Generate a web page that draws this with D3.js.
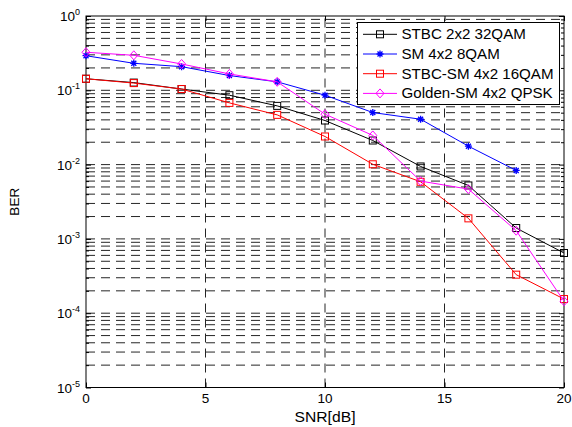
<!DOCTYPE html>
<html>
<head>
<meta charset="utf-8">
<script src="https://cdn.jsdelivr.net/npm/d3@7"></script>
<style>
	body { margin: 0; background: #fff; }
	text { font-family: "Liberation Sans", Arial, sans-serif; fill: #000; }
</style>
</head>
<body>
<svg id="chart" width="572" height="427"></svg>
<script>
const snr = [0, 2, 4, 6, 8, 10, 12, 14, 16, 18, 20]

const stbc32 = [0.143, 0.127, 0.104, 0.0859, 0.0617, 0.0392, 0.0211, 0.00944, 0.00524, 0.0014, 0.000646]
const sm8 = [0.292, 0.231, 0.208, 0.158, 0.130, 0.0859, 0.0502, 0.0408, 0.0177, 0.00834]
const stbcSm16 = [0.143, 0.125, 0.104, 0.0677, 0.0467, 0.0239, 0.0101, 0.00587, 0.00189, 0.00033, 0.000155]
const goldenQpsk = [0.325, 0.296, 0.226, 0.166, 0.130, 0.0477, 0.0247, 0.0060, 0.00468, 0.00129, 0.000145]

const xTicks = [0, 5, 10, 15, 20]
const yDecades = [-5, -4, -3, -2, -1, 0]

const series = [
	{ name: 'STBC 2x2 32QAM', values: stbc32, color: '#000000', marker: 'square' },
	{ name: 'SM 4x2 8QAM', values: sm8, color: '#0000ff', marker: 'star' },
	{ name: 'STBC-SM 4x2 16QAM', values: stbcSm16, color: '#ff0000', marker: 'square' },
	{ name: 'Golden-SM 4x2 QPSK', values: goldenQpsk, color: '#ff00ff', marker: 'diamond' }
]

const box = { left: 86, right: 564, top: 16, bottom: 387.5 }

const svg = d3.select('#chart')

const x = d3.scaleLinear().domain([0, 20]).range([box.left, box.right])
const y = d3.scaleLog().domain([1e-5, 1]).range([box.bottom, box.top])

// minor values 2..9 of every decade, plus the decades
const yAll = []
yDecades.forEach((d) => {
	for (let k = 1; k <= 9; k++) {
		const v = k * Math.pow(10, d)
		if (v >= 1e-5 && v <= 1) yAll.push(v)
	}
})
const yMajor = yDecades.map((d) => Math.pow(10, d))

// grid
const grid = svg.append('g')
	.attr('stroke', '#000')
	.attr('stroke-width', 1)
	.attr('stroke-dasharray', '9,6')
	.attr('opacity', 0.85)

grid.selectAll('.hgrid')
	.data(yAll.filter((v) => v > 1e-5 && v < 1))
	.enter().append('line')
		.attr('x1', box.left)
		.attr('x2', box.right)
		.attr('y1', (v) => y(v))
		.attr('y2', (v) => y(v))

grid.selectAll('.vgrid')
	.data(xTicks.filter((t) => t > 0 && t < 20))
	.enter().append('line')
		.attr('x1', (t) => x(t))
		.attr('x2', (t) => x(t))
		.attr('y1', box.bottom)
		.attr('y2', box.top)

// axes with inward ticks
const tickStyle = (g) => {
	g.select('.domain').remove()
	g.selectAll('line').attr('stroke', '#000')
	g.selectAll('text').remove()
}

svg.append('g')
	.attr('transform', `translate(0,${box.bottom})`)
	.call(d3.axisBottom(x).tickValues(xTicks).tickSize(-5))
	.call(tickStyle)
svg.append('g')
	.attr('transform', `translate(0,${box.top})`)
	.call(d3.axisTop(x).tickValues(xTicks).tickSize(-5))
	.call(tickStyle)

const yMinor = yAll.filter((v) => yMajor.indexOf(v) < 0)
svg.append('g')
	.attr('transform', `translate(${box.left},0)`)
	.call(d3.axisLeft(y).tickValues(yMinor).tickSize(-3))
	.call(tickStyle)
svg.append('g')
	.attr('transform', `translate(${box.left},0)`)
	.call(d3.axisLeft(y).tickValues(yMajor).tickSize(-5))
	.call(tickStyle)
svg.append('g')
	.attr('transform', `translate(${box.right},0)`)
	.call(d3.axisRight(y).tickValues(yMinor).tickSize(-3))
	.call(tickStyle)
svg.append('g')
	.attr('transform', `translate(${box.right},0)`)
	.call(d3.axisRight(y).tickValues(yMajor).tickSize(-5))
	.call(tickStyle)

svg.append('rect')
	.attr('x', box.left)
	.attr('y', box.top)
	.attr('width', box.right - box.left)
	.attr('height', box.bottom - box.top)
	.attr('fill', 'none')
	.attr('stroke', '#000')
	.attr('stroke-width', 1)

// tick labels
svg.selectAll('.xlabel')
	.data(xTicks)
	.enter().append('text')
		.attr('x', (t) => x(t))
		.attr('y', box.bottom + 15)
		.attr('text-anchor', 'middle')
		.attr('font-size', 13.5)
		.text((t) => t)

const ylab = svg.selectAll('.ylabel')
	.data(yDecades)
	.enter().append('text')
		.attr('x', box.left - 6)
		.attr('y', (d) => y(Math.pow(10, d)) + 5)
		.attr('text-anchor', 'end')
		.attr('font-size', 13.5)
ylab.append('tspan').text('10')
ylab.append('tspan')
	.attr('dy', -6)
	.attr('font-size', 9)
	.text((d) => d)

svg.append('text')
	.attr('transform', `translate(${(box.left + box.right) / 2},421.5) scale(1.12,1)`)
	.attr('text-anchor', 'middle')
	.attr('font-size', 14)
	.text('SNR[dB]')

svg.append('text')
	.attr('transform', `translate(18.5,${(box.top + box.bottom) / 2}) rotate(-90)`)
	.attr('text-anchor', 'middle')
	.attr('font-size', 13.5)
	.text('BER')

// markers
const drawMarker = (g, type, color) => {
	if (type === 'square') {
		g.append('rect')
			.attr('x', -3.5).attr('y', -3.5)
			.attr('width', 7).attr('height', 7)
			.attr('fill', 'none').attr('stroke', color)
	} else if (type === 'diamond') {
		g.append('path')
			.attr('d', 'M0,-4.5L4,0L0,4.5L-4,0Z')
			.attr('fill', 'none').attr('stroke', color)
	} else {
		g.append('path')
			.attr('d', 'M0,-3.5V3.5M-3.5,0H3.5M-2.5,-2.5L2.5,2.5M-2.5,2.5L2.5,-2.5')
			.attr('fill', 'none').attr('stroke', color).attr('stroke-width', 1.3)
	}
}

const line = d3.line()
	.x((d) => x(d[0]))
	.y((d) => y(d[1]))

series.forEach((s) => {
	const pts = s.values.map((v, i) => [snr[i], v])
	svg.append('path')
		.datum(pts)
		.attr('d', line)
		.attr('fill', 'none')
		.attr('stroke', s.color)
		.attr('stroke-width', 1)
	svg.selectAll(null)
		.data(pts)
		.enter().append('g')
			.attr('transform', (d) => `translate(${x(d[0])},${y(d[1])})`)
			.each(function () { drawMarker(d3.select(this), s.marker, s.color) })
})

// legend
const legend = svg.append('g')
legend.append('rect')
	.attr('x', 357.5).attr('y', 22.5)
	.attr('width', 202).attr('height', 82)
	.attr('fill', '#fff').attr('stroke', '#000')

series.forEach((s, i) => {
	const ly = 34.3 + i * 19.7
	legend.append('line')
		.attr('x1', 363).attr('x2', 397)
		.attr('y1', ly).attr('y2', ly)
		.attr('stroke', s.color)
	const m = legend.append('g').attr('transform', `translate(380,${ly})`)
	drawMarker(m, s.marker, s.color)
	legend.append('text')
		.attr('transform', `translate(401.5,${ly + 5}) scale(1.08,1)`)
		.attr('font-size', 14)
		.text(s.name)
})
</script>
</body>
</html>
